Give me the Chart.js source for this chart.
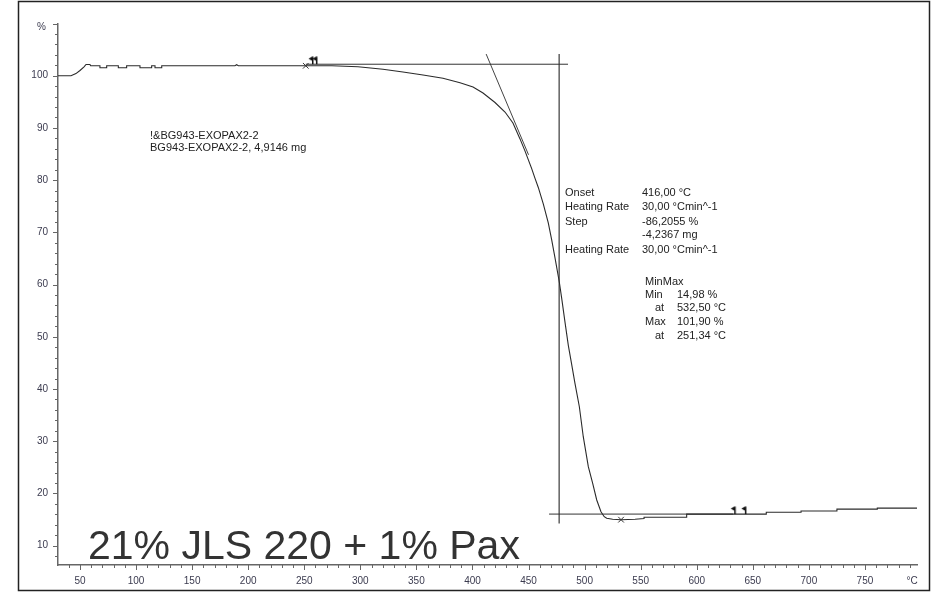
<!DOCTYPE html>
<html>
<head>
<meta charset="utf-8">
<script src="https://cdn.jsdelivr.net/npm/chart.js@4.4.1/dist/chart.umd.min.js"></script>
<style>
  body { margin: 0; background: #fff; }
  #wrap { position: relative; width: 932px; height: 593px; }
</style>
</head>
<body>
<div id="wrap"><canvas id="tga"></canvas></div>
<script>
// TGA run: mass in % against temperature in °C
var tempC = [30.4, 42, 46.4, 50, 53.6, 55.4, 58.9, 59.5, 67.8, 67.8, 73.8, 73.8, 84.2, 84.2,
	91.6, 91.6, 103.5, 103.5, 113.9, 113.9, 116.9, 116.9, 122.9, 122.9, 188.2, 189.7, 191.2,
	251.34, 274.7, 297.9, 320.2, 338.0, 355.9, 373.7, 388.9, 400.5, 409.4, 420.1, 429.0,
	436.1, 442.4, 446.8, 452.8, 455.7, 458.7, 463.2, 467.6, 470.6, 473.6, 477.5, 479.6,
	482.5, 485.5, 488.3, 491.4, 495.3, 498.8, 503.3, 507.2, 510.8, 514.6, 517.5, 519.7,
	525, 532.5, 545, 553, 553, 591, 591, 662, 662, 693, 693, 725, 725, 761, 761, 796.4];
var massPct = [100.0, 100.0, 100.4, 101.0, 101.7, 102.15, 102.15, 101.9, 101.9, 101.53, 101.53, 101.9, 101.9, 101.53,
	101.53, 101.9, 101.9, 101.53, 101.53, 101.9, 101.9, 101.53, 101.53, 101.9, 101.9, 102.1, 101.9,
	101.9, 101.9, 101.72, 101.23, 100.71, 100.13, 99.50, 98.66, 97.84, 96.69, 94.87, 93.05,
	90.94, 87.9, 85.6, 82.2, 80.4, 78.6, 75.4, 71.8, 68.6, 65.1, 60.4, 57.3,
	52.8, 48.3, 44.9, 41.1, 36.61, 30.87, 25.13, 21.95, 18.75, 16.51, 15.55, 15.24,
	15.05, 14.98, 15.05, 15.2, 15.45, 15.45, 16.05, 16.05, 16.4, 16.4, 16.65, 16.65, 17.0, 17.0, 17.2, 17.2];

// step evaluation: baselines, inflection tangent, onset marker line
var upperBaseT = [251.34, 485.2];
var upperBaseM = [102.2, 102.2];
var lowerBaseT = [468.3, 632.5];
var lowerBaseM = [16.05, 16.05];
var tangentT = [412.2, 450];
var tangentM = [104.15, 84.85];
var markT = [477.3, 477.3];
var markM = [104.15, 14.25];

// min / max points and evaluation limit flags
var extremaT = [251.34, 532.5];
var extremaM = [101.90, 14.98];
var flagT = [256, 259.5, 632.5, 642];
var flagM = [102.2, 102.2, 16.05, 16.05];

var sampleLines = ["!&BG943-EXOPAX2-2", "BG943-EXOPAX2-2, 4,9146 mg"];
var title = "21% JLS 220 + 1% Pax";

function pts(xs, ys) {
	return xs.map(function(x, i) { return {x: x, y: ys[i]}; });
}

function makeFlag() {
	var c = document.createElement('canvas');
	c.width = 8; c.height = 16;
	var g = c.getContext('2d');
	g.fillStyle = '#111';
	g.fillRect(5, 0.5, 1.5, 7.5);
	g.beginPath();
	g.moveTo(5, 0.5); g.lineTo(1.5, 2.5); g.lineTo(5, 4.5);
	g.closePath(); g.fill();
	return c;
}

var FONT = '"Liberation Sans", Arial, sans-serif';

// frame, tick marks and the text blocks
var decor = {
	id: 'decor',
	beforeDraw: function(chart) {
		var ctx = chart.ctx;
		ctx.save();
		ctx.fillStyle = '#fff';
		ctx.fillRect(0, 0, chart.width, chart.height);
		ctx.restore();
	},
	afterDraw: function(chart) {
		var ctx = chart.ctx, xs = chart.scales.x, ys = chart.scales.y, a = chart.chartArea;
		ctx.save();

		ctx.strokeStyle = '#222';
		ctx.lineWidth = 1.5;
		ctx.strokeRect(18.5, 1.5, 911, 589);

		ctx.strokeStyle = '#666';
		ctx.lineWidth = 1;
		ys.ticks.forEach(function(t) {
			var y = Math.round(ys.getPixelForValue(t.value)) + 0.5;
			var len = t.value % 10 === 0 ? 5 : 3;
			ctx.beginPath(); ctx.moveTo(a.left - len, y); ctx.lineTo(a.left, y); ctx.stroke();
		});
		xs.ticks.forEach(function(t) {
			var x = Math.round(xs.getPixelForValue(t.value)) + 0.5;
			var len = t.value % 50 === 0 ? 5 : 3;
			ctx.beginPath(); ctx.moveTo(x, a.bottom); ctx.lineTo(x, a.bottom + len); ctx.stroke();
		});

		// unit labels
		ctx.fillStyle = '#3b3b4f';
		ctx.font = '10px ' + FONT;
		ctx.textBaseline = 'middle';
		ctx.textAlign = 'right';
		ctx.fillText('%', 46, 27);
		ctx.textAlign = 'center';
		ctx.fillText('°C', 912, 581);

		// sample info
		ctx.fillStyle = '#222';
		ctx.font = '11px ' + FONT;
		ctx.textAlign = 'left';
		ctx.fillText(sampleLines[0], 150, 136);
		ctx.fillText(sampleLines[1], 150, 148);

		// step evaluation results
		var rows = [
			['Onset', '416,00 °C', 193],
			['Heating Rate', '30,00 °Cmin^-1', 207],
			['Step', '-86,2055 %', 222],
			['', '-4,2367 mg', 235],
			['Heating Rate', '30,00 °Cmin^-1', 250]
		];
		rows.forEach(function(r) {
			ctx.fillText(r[0], 565, r[2]);
			ctx.fillText(r[1], 642, r[2]);
		});

		ctx.fillText('MinMax', 645, 282);
		ctx.fillText('Min', 645, 295);
		ctx.fillText('14,98 %', 677, 295);
		ctx.fillText('at', 655, 308);
		ctx.fillText('532,50 °C', 677, 308);
		ctx.fillText('Max', 645, 322);
		ctx.fillText('101,90 %', 677, 322);
		ctx.fillText('at', 655, 336);
		ctx.fillText('251,34 °C', 677, 336);

		// sample title
		ctx.fillStyle = '#333';
		ctx.font = '41px ' + FONT;
		ctx.textBaseline = 'alphabetic';
		ctx.fillText(title, 88, 559);

		ctx.restore();
	}
};

var flagImg = makeFlag();

new Chart(document.getElementById('tga'), {
	type: 'scatter',
	data: {
		datasets: [
			{
				data: pts(extremaT, extremaM),
				pointStyle: 'crossRot',
				pointRadius: 4,
				borderColor: '#333',
				borderWidth: 1,
				showLine: false
			},
			{
				data: pts(flagT, flagM),
				pointStyle: flagImg,
				pointRadius: 4,
				showLine: false
			},
			{
				data: pts(tempC, massPct),
				showLine: true,
				borderColor: '#2b2b2b',
				borderWidth: 1.1,
				pointRadius: 0
			},
			{
				data: pts(upperBaseT, upperBaseM),
				showLine: true, borderColor: '#333', borderWidth: 1, pointRadius: 0
			},
			{
				data: pts(lowerBaseT, lowerBaseM),
				showLine: true, borderColor: '#333', borderWidth: 1, pointRadius: 0
			},
			{
				data: pts(tangentT, tangentM),
				showLine: true, borderColor: '#444', borderWidth: 1, pointRadius: 0
			},
			{
				data: pts(markT, markM),
				showLine: true, borderColor: '#555', borderWidth: 1.4, pointRadius: 0
			}
		]
	},
	options: {
		responsive: true,
		maintainAspectRatio: false,
		animation: false,
		layout: { padding: { left: 0, top: 23.5, right: 15, bottom: 0 } },
		plugins: { legend: { display: false }, tooltip: { enabled: false } },
		elements: { line: { tension: 0 } },
		scales: {
			x: {
				type: 'linear',
				min: 30.4,
				max: 796.4,
				grid: { display: false, drawTicks: false },
				border: { display: true, color: '#666', width: 1.5 },
				ticks: {
					stepSize: 10,
					includeBounds: false,
					autoSkip: false,
					maxRotation: 0,
					padding: 10,
					color: '#3b3b4f',
					font: { family: FONT, size: 10 },
					callback: function(v) { return v % 50 === 0 ? String(v) : ''; }
				},
				afterFit: function(s) {
					s.height = 28;
					s.paddingLeft = 0; s.paddingRight = 0;
				}
			},
			y: {
				type: 'linear',
				min: 6.3,
				max: 110,
				grid: { display: false, drawTicks: false },
				border: { display: true, color: '#666', width: 1.5 },
				ticks: {
					stepSize: 2,
					includeBounds: false,
					autoSkip: false,
					padding: 10,
					color: '#3b3b4f',
					font: { family: FONT, size: 10 },
					callback: function(v) { return (v % 10 === 0 && v <= 100) ? String(v) : ''; }
				},
				afterFit: function(s) {
					s.width = 58;
					s.paddingTop = 0; s.paddingBottom = 0;
				}
			}
		}
	},
	plugins: [decor]
});
</script>
</body>
</html>
